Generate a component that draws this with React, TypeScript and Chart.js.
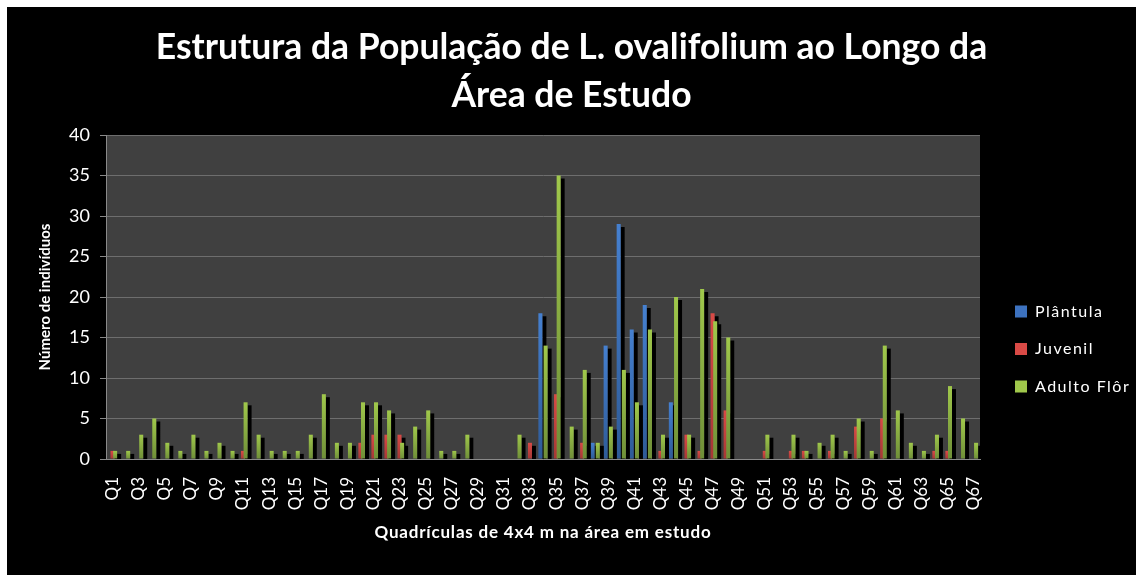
import { useEffect, useRef } from 'react';
import { Chart, registerables } from 'chart.js';

Chart.register(...registerables);

const categories = [
  'Q1', 'Q2', 'Q3', 'Q4', 'Q5', 'Q6', 'Q7', 'Q8', 'Q9', 'Q10',
  'Q11', 'Q12', 'Q13', 'Q14', 'Q15', 'Q16', 'Q17', 'Q18', 'Q19', 'Q20',
  'Q21', 'Q22', 'Q23', 'Q24', 'Q25', 'Q26', 'Q27', 'Q28', 'Q29', 'Q30',
  'Q31', 'Q32', 'Q33', 'Q34', 'Q35', 'Q36', 'Q37', 'Q38', 'Q39', 'Q40',
  'Q41', 'Q42', 'Q43', 'Q44', 'Q45', 'Q46', 'Q47', 'Q48', 'Q49', 'Q50',
  'Q51', 'Q52', 'Q53', 'Q54', 'Q55', 'Q56', 'Q57', 'Q58', 'Q59', 'Q60',
  'Q61', 'Q62', 'Q63', 'Q64', 'Q65', 'Q66', 'Q67',
];

const plantula = [
  0, 0, 0, 0, 0, 0, 0, 0, 0, 0,
  0, 0, 0, 0, 0, 0, 0, 0, 0, 0,
  0, 0, 0, 0, 0, 0, 0, 0, 0, 0,
  0, 0, 0, 18, 0, 0, 0, 2, 14, 29,
  16, 19, 0, 7, 0, 0, 0, 0, 0, 0,
  0, 0, 0, 0, 0, 0, 0, 0, 0, 0,
  0, 0, 0, 0, 0, 0, 0,
];

const juvenil = [
  1, 0, 0, 0, 0, 0, 0, 0, 0, 0,
  1, 0, 0, 0, 0, 0, 0, 0, 0, 2,
  3, 3, 3, 0, 0, 0, 0, 0, 0, 0,
  0, 0, 2, 0, 8, 0, 2, 0, 0, 0,
  0, 0, 1, 0, 3, 1, 18, 6, 0, 0,
  1, 0, 1, 1, 0, 1, 0, 4, 0, 5,
  0, 0, 0, 1, 1, 0, 0,
];

const adultoFlor = [
  1, 1, 3, 5, 2, 1, 3, 1, 2, 1,
  7, 3, 1, 1, 1, 3, 8, 2, 2, 7,
  7, 6, 2, 4, 6, 1, 1, 3, 0, 0,
  0, 3, 0, 14, 35, 4, 11, 2, 4, 11,
  7, 16, 3, 20, 3, 21, 17, 15, 0, 0,
  3, 0, 3, 1, 2, 3, 1, 5, 1, 14,
  6, 2, 1, 3, 9, 5, 2,
];

const seriesNames = ['Plântula', 'Juvenil', 'Adulto Flôr'];
const titleLines = ['Estrutura da População de L. ovalifolium ao Longo da', 'Área de Estudo'];
const yTitle = 'Número de indivíduos';
const xTitle = 'Quadrículas de 4x4 m na área em estudo';
const yMin = 0;
const yMax = 40;
const yStep = 5;

function gradientFill(top: string, bottom: string, solid: string) {
  return (c: any) => {
    const chart = c.chart;
    const y = chart && chart.scales ? chart.scales.y : null;
    if (c.type !== 'data' || !y || typeof c.raw !== 'number' || c.raw <= 0) return solid;
    const y0 = y.getPixelForValue(0);
    const y1 = y.getPixelForValue(c.raw);
    if (!isFinite(y0) || !isFinite(y1) || Math.abs(y0 - y1) < 0.5) return solid;
    const g = chart.ctx.createLinearGradient(0, y1, 0, y0);
    g.addColorStop(0, top);
    g.addColorStop(1, bottom);
    return g;
  };
}

function withSpacing(chart: any, obj: any, method: string, spacing: string) {
  if (!obj || obj['__sp_' + method]) return;
  const orig = obj[method].bind(obj);
  obj[method] = (...args: any[]) => {
    const c = chart.ctx;
    c.save();
    (c as any).letterSpacing = spacing;
    orig(...args);
    c.restore();
  };
  obj['__sp_' + method] = true;
}

const LEGEND_WIDTH = 142.5;

const excelLook = {
  id: 'excelLook',
  beforeLayout(chart: any) {
    const lg = chart.legend;
    if (lg && !lg.__fitFixed) {
      const origFit = lg.fit.bind(lg);
      lg.fit = () => {
        origFit();
        lg.width = LEGEND_WIDTH;
      };
      lg.__fitFixed = true;
    }
  },
  beforeDraw(chart: any) {
    const { ctx, chartArea: a } = chart;
    ctx.save();
    ctx.fillStyle = '#404040';
    ctx.fillRect(a.left, a.top, a.right - a.left, a.bottom - a.top);
    ctx.restore();
    withSpacing(chart, chart.legend, 'draw', '1.5px');
    withSpacing(chart, chart.scales.x, 'drawTitle', '0.8px');
  },
  beforeDatasetsDraw(chart: any) {
    const { ctx, chartArea: a } = chart;
    ctx.save();
    ctx.beginPath();
    ctx.rect(a.left, a.top, a.right - a.left, a.bottom - a.top);
    ctx.clip();
    ctx.shadowColor = '#000000';
    ctx.shadowOffsetX = 4;
    ctx.shadowOffsetY = 3;
    ctx.shadowBlur = 0;
    for (let i = 0; i < chart.data.datasets.length; i++) {
      const meta = chart.getDatasetMeta(i);
      if (meta && meta.controller && !meta.hidden) meta.controller.draw();
    }
    ctx.restore();
    return false;
  },
};

export default function App() {
  const ref = useRef<HTMLCanvasElement>(null);

  useEffect(() => {
    if (!ref.current) return;
    Chart.defaults.font.family = 'Lato';
    const chart = new Chart(ref.current, {
      type: 'bar',
      data: {
        labels: categories,
        datasets: [
          {
            label: seriesNames[0],
            data: plantula,
            backgroundColor: gradientFill('#4580d0', '#2e5b98', '#3d72bf'),
            borderWidth: 0,
            categoryPercentage: 0.6,
            barPercentage: 1.54,
          },
          {
            label: seriesNames[1],
            data: juvenil,
            backgroundColor: gradientFill('#d94a46', '#a63835', '#c0423f'),
            borderWidth: 0,
            categoryPercentage: 0.6,
            barPercentage: 1.54,
          },
          {
            label: seriesNames[2],
            data: adultoFlor,
            backgroundColor: gradientFill('#a0c84b', '#6f8f38', '#8db33f'),
            borderWidth: 0,
            categoryPercentage: 0.6,
            barPercentage: 1.54,
          },
        ],
      },
      options: {
        responsive: false,
        animation: false,
        devicePixelRatio: 1,
        layout: { padding: { left: 0, right: 0, top: 0, bottom: 0 } },
        plugins: {
          title: {
            display: true,
            text: titleLines,
            color: '#ffffff',
            font: { family: 'Lato', size: 35.5, weight: 'bold', lineHeight: '48px' },
            padding: { top: 16.5, bottom: 15.5 },
          },
          legend: {
            display: true,
            position: 'right',
            title: {
              display: true,
              text: ' ',
              font: { size: 10, lineHeight: 1.2 },
              padding: { top: 104, bottom: 0 },
            },
            labels: {
              boxWidth: 12,
              boxHeight: 12,
              padding: 21.5,
              color: '#ffffff',
              font: { family: 'Lato', size: 16 },
            },
          },
          tooltip: { enabled: false },
        },
        scales: {
          x: {
            type: 'category',
            offset: true,
            grid: { display: false, drawTicks: false },
            border: { display: true, color: '#8a8a8a', width: 1 },
            ticks: {
              autoSkip: false,
              maxRotation: 90,
              minRotation: 90,
              padding: 18,
              color: '#ffffff',
              font: { family: 'Lato', size: 17 },
              callback: (_v: any, i: number) => (i % 2 === 0 ? categories[i] : ''),
            },
            title: {
              display: true,
              text: xTitle,
              color: '#ffffff',
              font: { family: 'Lato', size: 17, weight: 'bold', lineHeight: 1.2 },
              padding: { top: 0, bottom: 31.8 },
            },
            afterFit: (s: any) => {
              s.height = 116;
            },
          },
          y: {
            min: yMin,
            max: yMax,
            ticks: {
              stepSize: yStep,
              padding: 10,
              color: '#ffffff',
              font: { family: 'Lato', size: 18 },
            },
            grid: { color: '#6e6e6e', lineWidth: 1, drawTicks: true, tickLength: 6, tickColor: '#8a8a8a' },
            border: { display: true, color: '#8a8a8a', width: 1 },
            title: {
              display: true,
              text: yTitle,
              color: '#ffffff',
              font: { family: 'Lato', size: 15, weight: 'bold' },
              padding: { top: 29, bottom: 0 },
            },
            afterFit: (s: any) => {
              s.width = 99;
            },
          },
          y2: {
            type: 'linear',
            position: 'right',
            display: true,
            grid: { display: false, drawTicks: false },
            border: { display: false },
            ticks: { display: false },
            afterFit: (s: any) => {
              s.width = 13.5;
            },
          },
        },
      },
      plugins: [excelLook],
    });
    return () => chart.destroy();
  }, []);

  return (
    <div
      style={{
        position: 'absolute',
        left: 7,
        top: 7,
        width: 1129,
        height: 568,
        background: '#000000',
      }}
    >
      <canvas ref={ref} width={1129} height={568} style={{ display: 'block' }} />
    </div>
  );
}
